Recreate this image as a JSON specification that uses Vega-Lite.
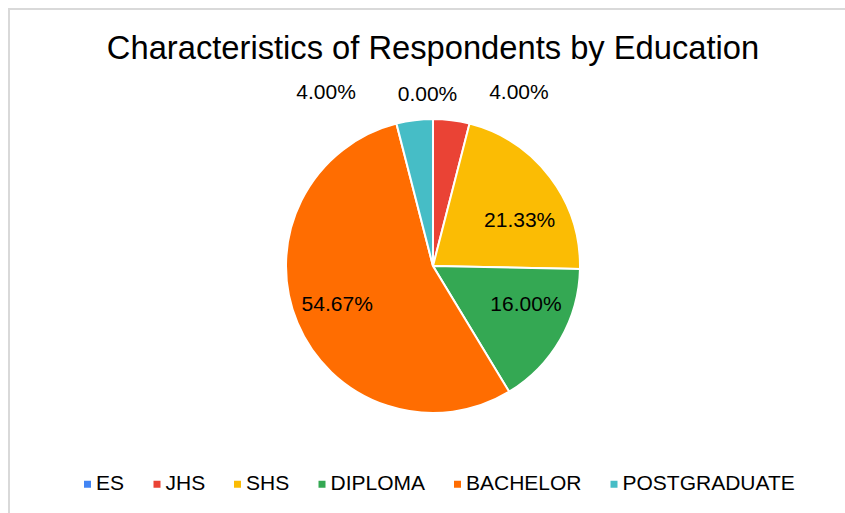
{
  "$schema": "https://vega.github.io/schema/vega-lite/v6.json",
  "autosize": {"type": "none"},
  "padding": {"left": 9, "top": 9, "right": -12, "bottom": -10},
  "width": 848,
  "height": 514,
  "background": "white",
  "view": {"stroke": "#d9d9d9", "strokeWidth": 2, "fill": "white"},
  "title": {
    "text": "Characteristics of Respondents by Education",
    "frame": "group",
    "anchor": "middle",
    "orient": "top",
    "offset": -83,
    "baseline": "alphabetic",
    "font": "Liberation Sans",
    "fontSize": 32.7,
    "fontWeight": "normal",
    "color": "#000000"
  },
  "data": {
    "values": [
      {"Education": "ES", "share": 0, "rank": 1},
      {"Education": "JHS", "share": 0.04, "rank": 2},
      {"Education": "SHS", "share": 0.2133, "rank": 3},
      {"Education": "DIPLOMA", "share": 0.16, "rank": 4},
      {"Education": "BACHELOR", "share": 0.5467, "rank": 5},
      {"Education": "POSTGRADUATE", "share": 0.04, "rank": 6}
    ]
  },
  "encoding": {
    "theta": {"field": "share", "type": "quantitative", "stack": true},
    "order": {"field": "rank", "type": "quantitative"}
  },
  "layer": [
    {
      "mark": {"type": "arc", "outerRadius": 147, "stroke": "#ffffff", "strokeWidth": 2},
      "encoding": {
        "color": {
          "field": "Education",
          "type": "nominal",
          "scale": {
            "domain": ["ES", "JHS", "SHS", "DIPLOMA", "BACHELOR", "POSTGRADUATE"],
            "range": ["#4285F4", "#EA4335", "#FBBC04", "#34A853", "#FF6D01", "#46BDC6"]
          },
          "legend": {
            "orient": "none",
            "legendX": 68,
            "legendY": 464.5,
            "direction": "horizontal",
            "title": null,
            "symbolType": "square",
            "symbolSize": 49,
            "symbolStrokeWidth": 0,
            "symbolOpacity": 1,
            "labelFontSize": 21,
            "labelFont": "Liberation Sans",
            "labelColor": "#000000",
            "labelOffset": -2,
            "columnPadding": 21.5,
            "padding": 0,
            "labelLimit": 0,
            "labelBaseline": "middle"
          }
        }
      }
    },
    {
      "mark": {"type": "text", "radius": 105, "dx": 3, "dy": 18.5, "font": "Liberation Sans", "fontSize": 21, "color": "#000000", "align": "center", "baseline": "middle"},
      "encoding": {"text": {"condition": {"test": "datum.Education === 'SHS'", "field": "share", "type": "quantitative", "format": ".2%"}, "value": ""}}
    },
    {
      "mark": {"type": "text", "radius": 105, "dx": 2, "dy": -13.5, "font": "Liberation Sans", "fontSize": 21, "color": "#000000", "align": "center", "baseline": "middle"},
      "encoding": {"text": {"condition": {"test": "datum.Education === 'DIPLOMA'", "field": "share", "type": "quantitative", "format": ".2%"}, "value": ""}}
    },
    {
      "mark": {"type": "text", "radius": 105, "dx": 1, "dy": -2, "font": "Liberation Sans", "fontSize": 21, "color": "#000000", "align": "center", "baseline": "middle"},
      "encoding": {"text": {"condition": {"test": "datum.Education === 'BACHELOR'", "field": "share", "type": "quantitative", "format": ".2%"}, "value": ""}}
    },
    {
      "mark": {"type": "text", "radius": 175, "dx": 64, "dy": 1, "font": "Liberation Sans", "fontSize": 21, "color": "#000000", "align": "center", "baseline": "middle"},
      "encoding": {"text": {"condition": {"test": "datum.Education === 'JHS'", "field": "share", "type": "quantitative", "format": ".2%"}, "value": ""}}
    },
    {
      "mark": {"type": "text", "radius": 175, "dx": -5.5, "dy": 4, "font": "Liberation Sans", "fontSize": 21, "color": "#000000", "align": "center", "baseline": "middle"},
      "encoding": {"text": {"condition": {"test": "datum.Education === 'ES'", "field": "share", "type": "quantitative", "format": ".2%"}, "value": ""}}
    },
    {
      "mark": {"type": "text", "radius": 175, "dx": -85, "dy": 1, "font": "Liberation Sans", "fontSize": 21, "color": "#000000", "align": "center", "baseline": "middle"},
      "encoding": {"text": {"condition": {"test": "datum.Education === 'POSTGRADUATE'", "field": "share", "type": "quantitative", "format": ".2%"}, "value": ""}}
    }
  ],
  "config": {
    "font": "Liberation Sans"
  }
}
